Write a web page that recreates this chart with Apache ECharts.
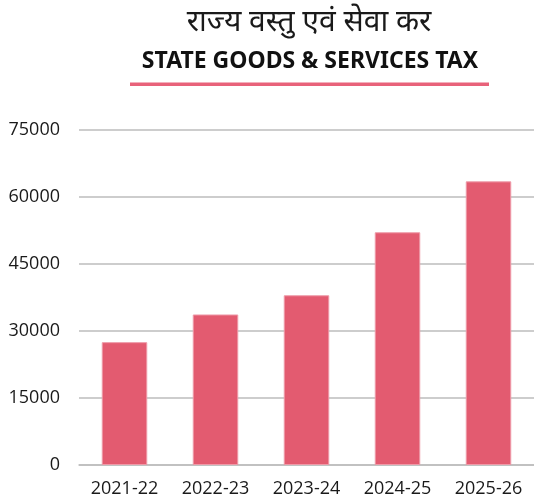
<!DOCTYPE html>
<html>
<head>
<meta charset="utf-8">
<script src="https://cdn.jsdelivr.net/npm/echarts@6/dist/echarts.min.js"></script>
<style>
  html, body { margin: 0; padding: 0; background: #fff; }
  #chart { width: 534px; height: 504px; }
</style>
</head>
<body>
<div id="chart"></div>
<script>
// financial years and collections
var years = ['2021-22', '2022-23', '2023-24', '2024-25', '2025-26'];
var sgstValues = [27500, 33700, 38000, 52100, 63500];
var yTicks = [0, 15000, 30000, 45000, 60000, 75000];

var titleHindi = 'राज्य वस्तु एवं सेवा कर';
var titleEnglish = 'STATE GOODS & SERVICES TAX';

var chart = echarts.init(document.getElementById('chart'));

var option = {
    animation: false,
    graphic: [
        {
            type: 'text',
            x: 309, y: 22,
            style: {
                text: titleHindi,
                fill: '#1a1a1a',
                font: '30px "Noto Sans", sans-serif',
                textAlign: 'center',
                textVerticalAlign: 'middle'
            }
        },
        {
            type: 'text',
            x: 310, y: 61,
            style: {
                text: titleEnglish,
                fill: '#111',
                font: 'bold 23px "Noto Sans", sans-serif',
                textAlign: 'center',
                textVerticalAlign: 'middle'
            }
        },
        {
            type: 'rect',
            shape: { x: 130, y: 82.5, width: 359, height: 3.5 },
            style: { fill: '#e8627a' }
        }
    ],
    grid: {
        left: 79,
        right: 0,
        top: 130,
        bottom: 39,
        containLabel: false
    },
    xAxis: {
        type: 'category',
        data: years,
        axisTick: { show: false },
        axisLine: { show: true, lineStyle: { color: '#bdbdbd', width: 1.5 } },
        axisLabel: {
            color: '#1a1a1a',
            fontSize: 18,
            fontFamily: 'Open Sans',
            margin: 15
        }
    },
    yAxis: {
        type: 'value',
        min: yTicks[0],
        max: yTicks[yTicks.length - 1],
        interval: yTicks[1] - yTicks[0],
        axisLine: { show: false },
        axisTick: { show: false },
        splitLine: { lineStyle: { color: '#bdbdbd', width: 1.5 } },
        axisLabel: {
            color: '#1a1a1a',
            fontSize: 18,
            fontFamily: 'Open Sans',
            margin: 19,
            formatter: function (v) { return String(v); }
        }
    },
    series: [
        {
            name: 'SGST',
            type: 'bar',
            data: sgstValues,
            barWidth: '50%',
            itemStyle: {
                color: '#e35b70',
                borderColor: '#ee9aa8',
                borderWidth: 1
            }
        }
    ]
};

chart.setOption(option);
</script>
</body>
</html>
